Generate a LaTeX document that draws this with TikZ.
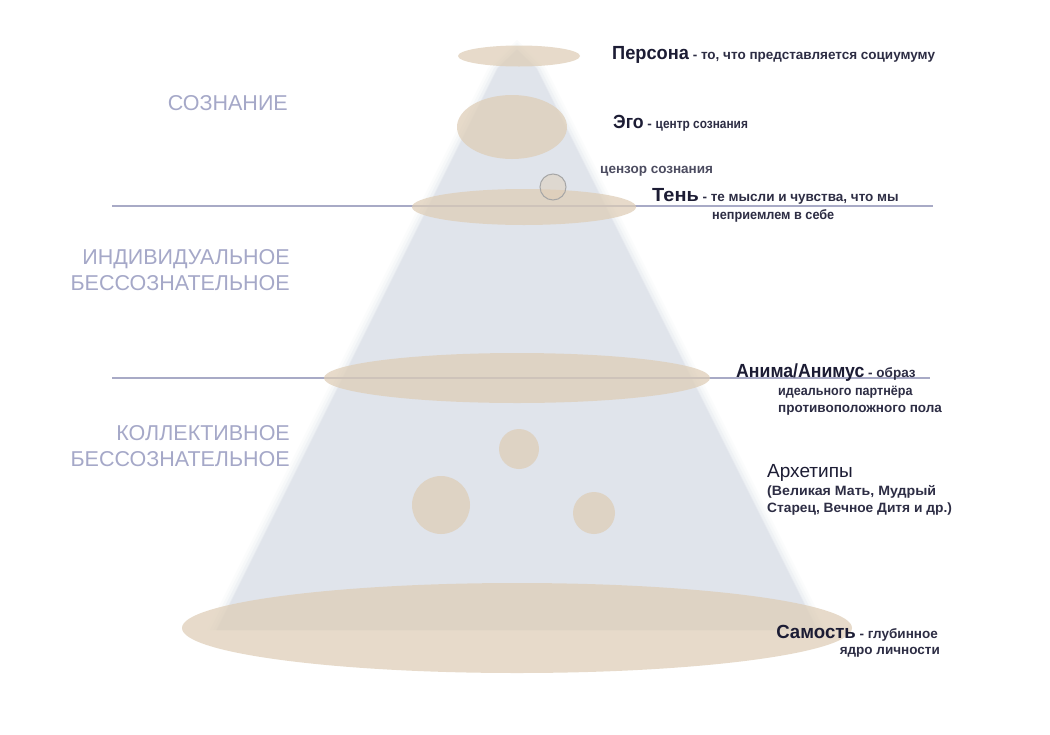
\documentclass[tikz,border=0pt]{standalone}
\usepackage{graphicx}
\usepackage{fontspec}
\setmainfont{Liberation Sans}
\definecolor{conecol}{RGB}{224,228,235}
\definecolor{tan}{RGB}{222,205,182}
\definecolor{lav}{RGB}{165,168,200}
\definecolor{ink}{RGB}{28,28,52}
\definecolor{inkd}{RGB}{45,45,68}
\definecolor{linecol}{RGB}{168,170,198}
\newcommand{\sx}[2]{\scalebox{#1}[1]{#2}}
\newcommand{\ttlf}{\bfseries\fontsize{19}{22}\selectfont}
\newcommand{\dscf}{\bfseries\fontsize{13.5}{16}\selectfont}
\tikzset{
  blob/.style={fill=tan,fill opacity=0.72,draw=none},
  zone/.style={text=lav,font=\fontsize{21.5}{26}\selectfont,align=right,anchor=east,inner sep=0pt},
  dsc/.style={text=inkd,font=\dscf},
  lbl/.style={anchor=base west,inner sep=0pt},
  lblr/.style={anchor=base east,inner sep=0pt},
  divider/.style={draw=linecol,line width=1.6pt}
}
\begin{document}
\begin{tikzpicture}[x=1pt,y=-1pt]
\useasboundingbox (0,0) rectangle (1050,734);
\fill[white] (0,0) rectangle (1050,734);
% cone with soft edges
\foreach \d/\o in {10/0.1,7/0.16,4/0.28,1/0.5,0/1}{
  \fill[conecol,opacity=\o] (517,50-\d) -- (536+\d,68) -- (817+\d,630) -- (217-\d,630) -- (498-\d,68) -- cycle;
}
% dividers
\coordinate (l1a) at (112,206); \coordinate (l1b) at (933,206);
\coordinate (l2a) at (112,378); \coordinate (l2b) at (930,378);
\draw[divider] (l1a) -- (l1b);
\draw[divider] (l2a) -- (l2b);
% ellipses
\fill[blob] (519,56) ellipse [x radius=61,y radius=10.5];
\fill[blob] (512,127) ellipse [x radius=55,y radius=32];
\fill[blob] (524,207) ellipse [x radius=112,y radius=18];
\fill[blob] (517,378) ellipse [x radius=193,y radius=25];
\fill[blob] (519,449) circle [radius=20];
\fill[blob] (441,505) circle [radius=29];
\fill[blob] (594,513) circle [radius=21];
\fill[blob] (517,628) ellipse [x radius=335,y radius=45];
\draw[fill=tan,fill opacity=0.5,draw=gray!70,line width=1pt] (553,187) circle [radius=13];
% zone labels
\node[zone] (z1) at (288,103) {СОЗНАНИЕ};
\node[zone] (z2) at (290,270) {ИНДИВИДУАЛЬНОЕ\\БЕССОЗНАТЕЛЬНОЕ};
\node[zone] (z3) at (290,446) {КОЛЛЕКТИВНОЕ\\БЕССОЗНАТЕЛЬНОЕ};
% right labels
\node[lbl] (persona) at (612,59) {\textcolor{ink}{\ttlf\sx{0.96}{Персона}}\textcolor{inkd}{\dscf{} - то, что представляется социумуму}};
\node[lbl] (ego) at (613,128) {\textcolor{ink}{\ttlf\sx{0.93}{Эго}}\textcolor{inkd}{\dscf{} - \sx{0.88}{центр сознания}}};
\node[lbl,dsc,text=inkd!85] (censor) at (600,173) {цензор сознания};
\node[lbl] (shadow) at (652,201) {\textcolor{ink}{\ttlf\sx{1.05}{Тень}}\textcolor{inkd}{\dscf{} - \sx{1.0}{те мысли и чувства, что мы}}};
\node[lbl,dsc] (shadow2) at (712,219) {\sx{0.94}{неприемлем в себе}};
\node[lbl] (anima) at (736,377) {\textcolor{ink}{\ttlf\sx{0.93}{Анима/Анимус}}\textcolor{inkd}{\dscf{} - образ}};
\node[lbl,dsc] (anima2) at (778,395) {\sx{0.93}{идеального партнёра}};
\node[lbl,dsc] (anima3) at (778,412) {противоположного пола};
\node[lbl,text=ink,font=\fontsize{19}{22}\selectfont] (arch) at (767,477) {Архетипы};
\node[lbl,dsc] (arch2) at (767,495) {\sx{1.05}{(Великая Мать, Мудрый}};
\node[lbl,dsc] (arch3) at (767,512) {\sx{1.02}{Старец, Вечное Дитя и др.)}};
\node[lblr] (self) at (938,638) {\textcolor{ink}{\ttlf\sx{0.98}{Самость}}\textcolor{inkd}{\dscf{} - глубинное}};
\node[lblr,dsc] (self2) at (940,654) {ядро личности};
\end{tikzpicture}
\end{document}
